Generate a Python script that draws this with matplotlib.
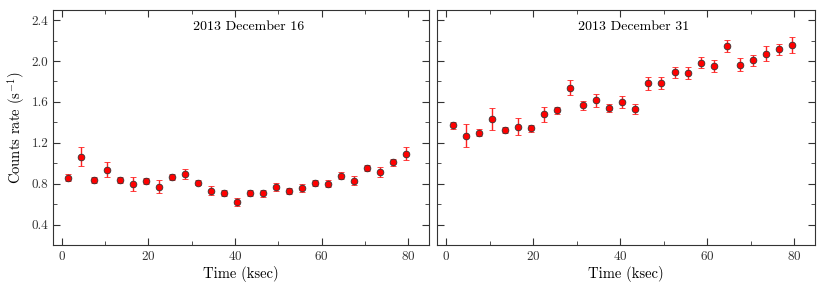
import numpy as np
import matplotlib
matplotlib.use('Agg')
import matplotlib.pyplot as plt
from matplotlib.ticker import MultipleLocator

# Datos
tiempo = [1.5, 4.5, 7.5, 10.5, 13.5, 16.5, 19.5, 22.5, 25.5, 28.5, 31.5, 34.5, 37.5, 40.5,
          43.5, 46.5, 49.5, 52.5, 55.5, 58.5, 61.5, 64.5, 67.5, 70.5, 73.5, 76.5, 79.5]

tasa_dic16 = [0.860, 1.065, 0.840, 0.935, 0.837, 0.801, 0.827, 0.771, 0.863, 0.895, 0.811,
              0.732, 0.712, 0.621, 0.706, 0.706, 0.765, 0.729, 0.758, 0.807, 0.801, 0.879,
              0.830, 0.954, 0.915, 1.010, 1.095]
err_dic16 = [0.034, 0.090, 0.030, 0.074, 0.030, 0.069, 0.031, 0.060, 0.031, 0.052, 0.028,
             0.044, 0.030, 0.036, 0.031, 0.036, 0.038, 0.033, 0.041, 0.030, 0.038, 0.031,
             0.046, 0.033, 0.052, 0.036, 0.062]

tasa_dic31 = [1.373, 1.268, 1.297, 1.431, 1.324, 1.356, 1.340, 1.477, 1.517, 1.739, 1.569,
              1.614, 1.542, 1.598, 1.529, 1.781, 1.781, 1.889, 1.886, 1.984, 1.951, 2.147,
              1.964, 2.007, 2.072, 2.114, 2.154]
err_dic31 = [0.034, 0.111, 0.034, 0.108, 0.033, 0.082, 0.036, 0.078, 0.038, 0.074, 0.044,
             0.067, 0.042, 0.060, 0.046, 0.062, 0.059, 0.057, 0.060, 0.054, 0.062, 0.056,
             0.065, 0.051, 0.075, 0.051, 0.078]

titulos = ['2013 December 16', '2013 December 31']

plt.rcParams['font.family'] = 'serif'
plt.rcParams['font.serif'] = ['cmr10']
plt.rcParams['mathtext.fontset'] = 'cm'
plt.rcParams['axes.formatter.use_mathtext'] = True
plt.rcParams['axes.edgecolor'] = '#333333'
plt.rcParams['xtick.color'] = '#333333'
plt.rcParams['ytick.color'] = '#333333'

fig = plt.figure(figsize=(8.3, 2.92), dpi=100)
ax1 = fig.add_axes([0.0642, 0.161, 0.4526, 0.805])
ax2 = fig.add_axes([0.527, 0.161, 0.455, 0.805])

for ax, tasa, err, titulo in zip([ax1, ax2], [tasa_dic16, tasa_dic31],
                                  [err_dic16, err_dic31], titulos):
    ax.errorbar(tiempo, tasa, yerr=err, fmt='o', color='red', ecolor='#ff2020',
                markerfacecolor='red', markeredgecolor='#333333', markeredgewidth=0.6,
                markersize=4.8, elinewidth=1.0, capsize=2.5, capthick=1.0)
    ax.set_xlim(-2, 84.8)
    ax.set_ylim(0.2, 2.5)
    ax.xaxis.set_major_locator(MultipleLocator(20))
    ax.xaxis.set_minor_locator(MultipleLocator(10))
    ax.yaxis.set_major_locator(MultipleLocator(0.4))
    ax.yaxis.set_minor_locator(MultipleLocator(0.2))
    ax.tick_params(which='both', direction='in', top=True, right=True, labelsize=9.5)
    ax.tick_params(which='major', length=5)
    ax.tick_params(which='minor', length=2.7)
    ax.set_xlabel('Time (ksec)', fontsize=10.5, labelpad=2)
    ax.text(0.52, 0.929, titulo, transform=ax.transAxes, ha='center', va='center',
            fontsize=10)

ax1.yaxis.set_major_formatter(plt.FormatStrFormatter('%.1f'))
ax1.set_ylabel('Counts rate (s$^{-1}$)', fontsize=10.5, labelpad=3)
ax2.tick_params(labelleft=False)

fig.savefig('out.png', dpi=100)
